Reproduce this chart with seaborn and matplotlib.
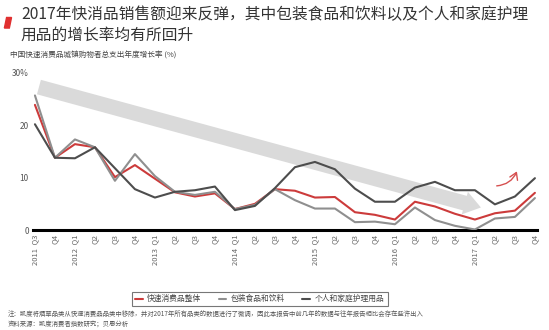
import numpy as np
import pandas as pd
import matplotlib
matplotlib.use("Agg")
import matplotlib.pyplot as plt
from matplotlib.patches import Polygon
import seaborn as sns

sns.set_theme(style="white")
plt.rcParams['font.family'] = ['Noto Sans CJK SC', 'DejaVu Sans']

# quarters 2011 Q3 .. 2017 Q4
quarters = ["2011  Q3", "Q4",
            "2012  Q1", "Q2", "Q3", "Q4",
            "2013  Q1", "Q2", "Q3", "Q4",
            "2014  Q1", "Q2", "Q3", "Q4",
            "2015  Q1", "Q2", "Q3", "Q4",
            "2016  Q1", "Q2", "Q3", "Q4",
            "2017  Q1", "Q2", "Q3", "Q4"]

fmcg_total = [23.9, 13.8, 16.4, 15.8, 10.1, 12.4, 9.8, 7.2, 6.4, 7.0,
              4.0, 5.0, 7.8, 7.5, 6.2, 6.3, 3.4, 2.9, 2.0, 5.4,
              4.5, 3.1, 2.0, 3.2, 3.7, 7.1]
food_bev = [25.7, 13.8, 17.3, 15.8, 9.4, 14.5, 10.3, 7.3, 6.7, 7.3,
            4.0, 4.8, 7.8, 5.7, 4.1, 4.1, 1.5, 1.6, 1.1, 4.3,
            1.9, 0.8, 0.1, 2.2, 2.5, 6.1]
personal_care = [20.2, 13.8, 13.7, 15.8, 11.8, 7.8, 6.2, 7.3, 7.6, 8.3,
                 3.8, 4.6, 8.0, 12.0, 13.0, 11.6, 7.9, 5.4, 5.4, 8.1,
                 9.2, 7.6, 7.6, 4.9, 6.4, 9.9]

series_names = ["快速消费品整体", "包装食品和饮料", "个人和家庭护理用品"]
colors = ["#cc3b3b", "#8f8f8f", "#4d4d4d"]

x = np.arange(len(quarters))
df = pd.DataFrame({
    "idx": np.tile(x, 3),
    "value": fmcg_total + food_bev + personal_care,
    "series": np.repeat(series_names, len(quarters)),
})

fig = plt.figure(figsize=(5.49, 3.30), dpi=100)
ax = fig.add_axes([0.06, 0.303, 0.918, 0.476])

# big grey trend arrow behind the lines
ax.annotate("", xy=(22.3, 4.3), xytext=(0.2, 27.3),
            arrowprops=dict(arrowstyle="simple,head_length=1.0,head_width=1.4,tail_width=0.9",
                            color="#dadada", lw=0, shrinkA=0, shrinkB=0),
            zorder=1)

sns.lineplot(data=df, x="idx", y="value", hue="series", hue_order=series_names,
             palette=colors, linewidth=1.5, ax=ax, zorder=3)

# small red upturn arrow
ax.annotate("", xy=(24.15, 11.7), xytext=(22.95, 8.4),
            arrowprops=dict(arrowstyle="->,head_length=0.4,head_width=0.25",
                            color="#d65050", lw=1.0,
                            connectionstyle="arc3,rad=0.35"))

ax.set_xlim(-0.1, 25.1)
ax.set_ylim(0, 30)
ax.set_yticks([0, 10, 20, 30])
ax.set_yticklabels(["0", "10", "20", "30%"], color="#555555", fontsize=6)
ax.set_xticks(x)
ax.set_xticklabels(quarters, rotation=90, fontsize=5.5, color="#666666")
ax.tick_params(axis="both", length=0, pad=3)
ax.set_xlabel("")
ax.set_ylabel("")
for s in ["top", "right", "left"]:
    ax.spines[s].set_visible(False)
ax.spines["bottom"].set_color("black")
ax.spines["bottom"].set_linewidth(2.2)

leg = ax.legend(loc="upper center", bbox_to_anchor=(0.45, -0.37), ncol=3,
                fontsize=5.6, frameon=True, fancybox=False, edgecolor="#555555",
                handlelength=1.0, handletextpad=0.6, columnspacing=2.2, borderpad=0.4)
leg.get_frame().set_linewidth(0.8)
for t in leg.get_texts():
    t.set_color("#444444")

# title and subtitle
fig.patches.append(Polygon([[0.012, 0.947], [0.021, 0.947], [0.017, 0.915], [0.008, 0.915]],
                           closed=True, transform=fig.transFigure, color="#e03030"))
fig.text(0.038, 0.955, "2017年快消品销售额迎来反弹，其中包装食品和饮料以及个人和家庭护理",
         fontsize=11.3, color="#333333", va="center")
fig.text(0.038, 0.892, "用品的增长率均有所回升",
         fontsize=11.3, color="#333333", va="center")
fig.text(0.018, 0.833, "中国快速消费品城镇购物者总支出年度增长率 (%)",
         fontsize=5.5, color="#444444", va="center")

# footnotes
fig.text(0.014, 0.048, "注：凯度将烟草品类从快速消费品品类中移除，并对2017年所有品类的数据进行了微调，因此本报告中前几年的数据与往年报告相比会存在些许出入",
         fontsize=4.6, color="#555555", va="center")
fig.text(0.014, 0.020, "资料来源：凯度消费者指数研究；贝恩分析",
         fontsize=4.6, color="#555555", va="center")

fig.savefig("out.png", dpi=100)
